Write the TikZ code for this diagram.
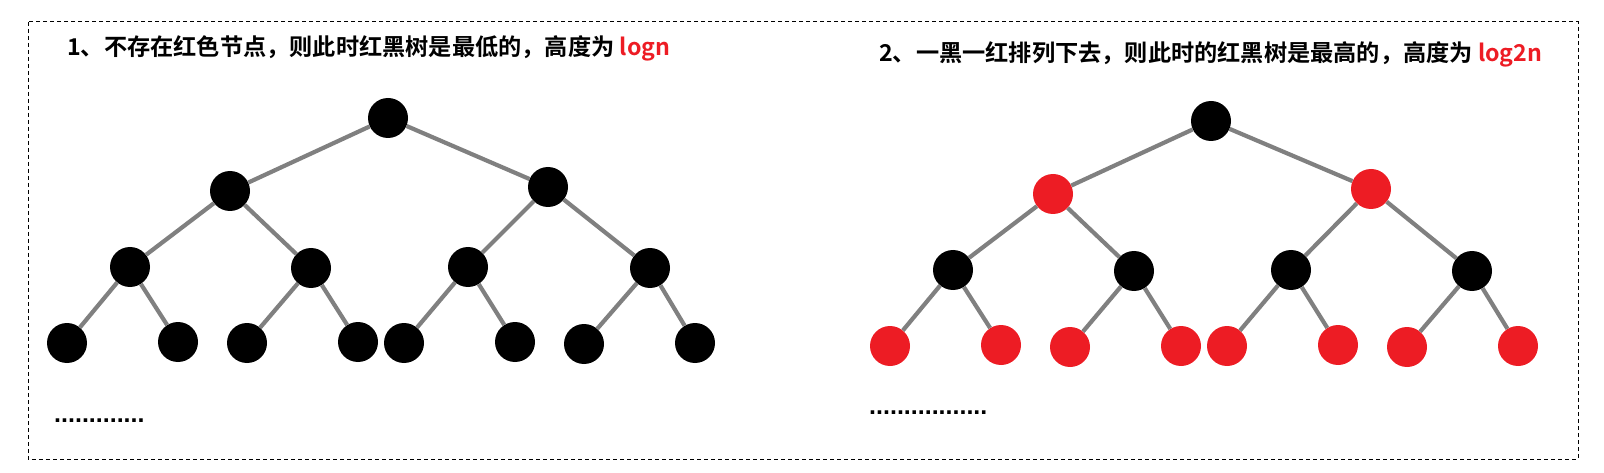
\documentclass[tikz,border=0pt]{standalone}
\usepackage{fontspec}
\newfontfamily\cjkbold{Noto Sans CJK SC Bold}
\newfontfamily\dotfont{Liberation Sans Bold}
\usepackage{tikz}
\definecolor{rbred}{RGB}{237,28,36}
\definecolor{edgegray}{RGB}{128,128,128}

\begin{document}
\begin{tikzpicture}[x=1pt, y=-1pt]
    \tikzstyle{blacknode} = [circle, fill=black, inner sep=0pt, minimum size=40pt]
    \tikzstyle{rednode} = [circle, fill=rbred, inner sep=0pt, minimum size=40pt]
    \tikzstyle{edge} = [edgegray, line width=4.2pt]
    \tikzstyle{title} = [anchor=base west, inner sep=0pt, font=\cjkbold\fontsize{23.2}{25}\selectfont]
    \tikzstyle{dots} = [anchor=base west, inner sep=0pt, font=\dotfont\fontsize{25}{25}\selectfont]

    \useasboundingbox (0,0) rectangle (1604,473);
    \draw [dashed, line width=1pt, dash pattern=on 4pt off 3pt] (28,22) rectangle (1578,459);

    % left tree: all black
    \node (ltitle) [title] at (67,56) {1、不存在红色节点，则此时红黑树是最低的，高度为 \textcolor{rbred}{logn}};
    \node (lr) [blacknode] at (388,118) {};
    \node (la) [blacknode] at (230,191) {};
    \node (lb) [blacknode] at (548,187) {};
    \node (lc) [blacknode] at (130,267) {};
    \node (ld) [blacknode] at (311,268) {};
    \node (le) [blacknode] at (468,267) {};
    \node (lf) [blacknode] at (650,268) {};
    \node (l1) [blacknode] at (67,343) {};
    \node (l2) [blacknode] at (178,342) {};
    \node (l3) [blacknode] at (247,343) {};
    \node (l4) [blacknode] at (358,342) {};
    \node (l5) [blacknode] at (404,343) {};
    \node (l6) [blacknode] at (515,342) {};
    \node (l7) [blacknode] at (584,344) {};
    \node (l8) [blacknode] at (695,343) {};
    \node (ldots) [dots] at (54,422) {.............};

    % right tree: black and red levels
    \node (rtitle) [title] at (879,62) {2、一黑一红排列下去，则此时的红黑树是最高的，高度为 \textcolor{rbred}{log2n}};
    \node (rr) [blacknode] at (1211,121) {};
    \node (ra) [rednode] at (1053,194) {};
    \node (rb) [rednode] at (1371,189) {};
    \node (rc) [blacknode] at (953,270) {};
    \node (rd) [blacknode] at (1134,271) {};
    \node (re) [blacknode] at (1291,270) {};
    \node (rf) [blacknode] at (1472,271) {};
    \node (r1) [rednode] at (890,346) {};
    \node (r2) [rednode] at (1001,345) {};
    \node (r3) [rednode] at (1070,347) {};
    \node (r4) [rednode] at (1181,346) {};
    \node (r5) [rednode] at (1227,346) {};
    \node (r6) [rednode] at (1338,345) {};
    \node (r7) [rednode] at (1407,347) {};
    \node (r8) [rednode] at (1518,346) {};
    \node (rdots) [dots] at (869,414) {.................};

    \draw [edge] (lr) -- (la);
    \draw [edge] (lr) -- (lb);
    \draw [edge] (la) -- (lc);
    \draw [edge] (la) -- (ld);
    \draw [edge] (lb) -- (le);
    \draw [edge] (lb) -- (lf);
    \draw [edge] (lc) -- (l1);
    \draw [edge] (lc) -- (l2);
    \draw [edge] (ld) -- (l3);
    \draw [edge] (ld) -- (l4);
    \draw [edge] (le) -- (l5);
    \draw [edge] (le) -- (l6);
    \draw [edge] (lf) -- (l7);
    \draw [edge] (lf) -- (l8);

    \draw [edge] (rr) -- (ra);
    \draw [edge] (rr) -- (rb);
    \draw [edge] (ra) -- (rc);
    \draw [edge] (ra) -- (rd);
    \draw [edge] (rb) -- (re);
    \draw [edge] (rb) -- (rf);
    \draw [edge] (rc) -- (r1);
    \draw [edge] (rc) -- (r2);
    \draw [edge] (rd) -- (r3);
    \draw [edge] (rd) -- (r4);
    \draw [edge] (re) -- (r5);
    \draw [edge] (re) -- (r6);
    \draw [edge] (rf) -- (r7);
    \draw [edge] (rf) -- (r8);
\end{tikzpicture}
\end{document}
